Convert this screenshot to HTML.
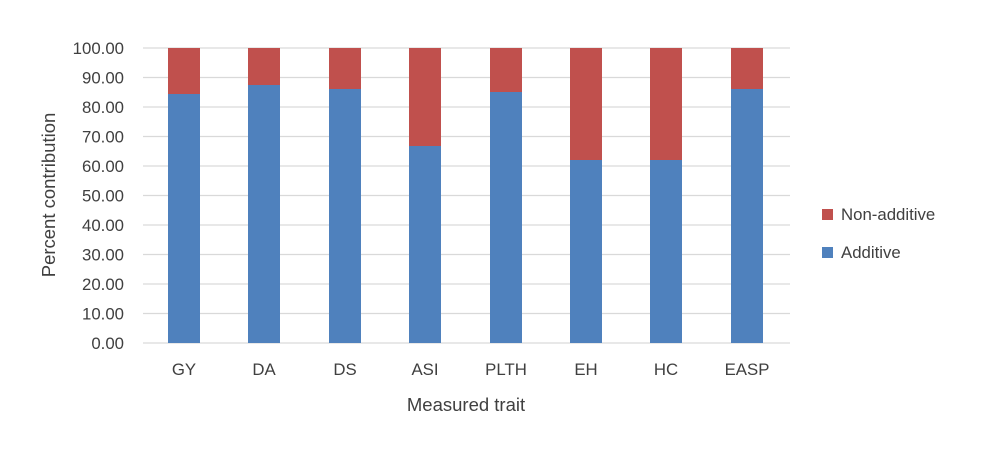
<!DOCTYPE html><html><head><style>body{margin:0;background:#fff}</style></head><body>
<svg width="981" height="444" xmlns="http://www.w3.org/2000/svg" font-family="Liberation Sans, sans-serif" font-size="16.8" fill="#404040">
<g stroke="#d9d9d9" stroke-width="1.3">
<line x1="143" x2="790" y1="48" y2="48"/><line x1="143" x2="790" y1="77.5" y2="77.5"/><line x1="143" x2="790" y1="107" y2="107"/><line x1="143" x2="790" y1="136.5" y2="136.5"/><line x1="143" x2="790" y1="166" y2="166"/><line x1="143" x2="790" y1="195.5" y2="195.5"/><line x1="143" x2="790" y1="225" y2="225"/><line x1="143" x2="790" y1="254.5" y2="254.5"/><line x1="143" x2="790" y1="284" y2="284"/><line x1="143" x2="790" y1="313.5" y2="313.5"/><line x1="143" x2="790" y1="343" y2="343"/>
</g>
<g text-anchor="end">
<text x="124" y="54">100.00</text><text x="124" y="83.5">90.00</text><text x="124" y="113">80.00</text><text x="124" y="142.5">70.00</text><text x="124" y="172">60.00</text><text x="124" y="201.5">50.00</text><text x="124" y="231">40.00</text><text x="124" y="260.5">30.00</text><text x="124" y="290">20.00</text><text x="124" y="319.5">10.00</text><text x="124" y="349">0.00</text>
</g>
<g>
<rect x="168" y="48" width="32" height="46" fill="#c0504d"/><rect x="168" y="94" width="32" height="249" fill="#4f81bd"/>
<rect x="248" y="48" width="32" height="37" fill="#c0504d"/><rect x="248" y="85" width="32" height="258" fill="#4f81bd"/>
<rect x="329" y="48" width="32" height="41" fill="#c0504d"/><rect x="329" y="89" width="32" height="254" fill="#4f81bd"/>
<rect x="409" y="48" width="32" height="98" fill="#c0504d"/><rect x="409" y="146" width="32" height="197" fill="#4f81bd"/>
<rect x="490" y="48" width="32" height="44" fill="#c0504d"/><rect x="490" y="92" width="32" height="251" fill="#4f81bd"/>
<rect x="570" y="48" width="32" height="112" fill="#c0504d"/><rect x="570" y="160" width="32" height="183" fill="#4f81bd"/>
<rect x="650" y="48" width="32" height="112" fill="#c0504d"/><rect x="650" y="160" width="32" height="183" fill="#4f81bd"/>
<rect x="731" y="48" width="32" height="41" fill="#c0504d"/><rect x="731" y="89" width="32" height="254" fill="#4f81bd"/>
</g>
<g text-anchor="middle">
<text x="184" y="375">GY</text><text x="264" y="375">DA</text><text x="345" y="375">DS</text><text x="425" y="375">ASI</text><text x="506" y="375">PLTH</text><text x="586" y="375">EH</text><text x="666" y="375">HC</text><text x="747" y="375">EASP</text>
<text x="466" y="411" font-size="18.5">Measured trait</text>
<text transform="translate(55 195) rotate(-90)" font-size="18.5">Percent contribution</text>
</g>
<rect x="822" y="209" width="11" height="11" fill="#c0504d"/><text x="841" y="220">Non-additive</text>
<rect x="822" y="247" width="11" height="11" fill="#4f81bd"/><text x="841" y="258">Additive</text>
</svg></body></html>
